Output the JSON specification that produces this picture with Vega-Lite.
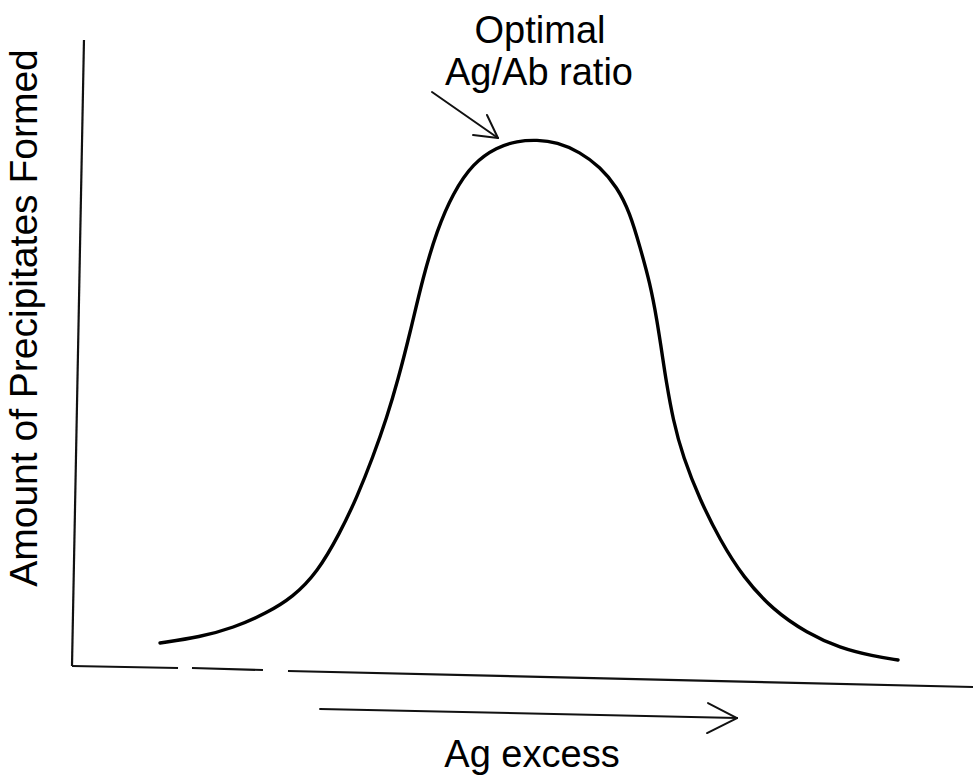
{
  "$schema": "https://vega.github.io/schema/vega-lite/v6.json",
  "width": 973,
  "height": 776,
  "autosize": {"type": "none"},
  "padding": 0,
  "background": "white",
  "config": {"view": {"stroke": null}},
  "datasets": {
    "curve": [
      {"ag": 9.78, "amount": 3.83},
      {"ag": 14.22, "amount": 4.83},
      {"ag": 17.89, "amount": 6.33},
      {"ag": 21.67, "amount": 8.83},
      {"ag": 24.56, "amount": 11.5},
      {"ag": 27.22, "amount": 15.5},
      {"ag": 29.78, "amount": 22.17},
      {"ag": 31.67, "amount": 28.17},
      {"ag": 33.44, "amount": 34.83},
      {"ag": 35.0, "amount": 41.5},
      {"ag": 36.22, "amount": 47.67},
      {"ag": 37.56, "amount": 55.5},
      {"ag": 39.0, "amount": 64.83},
      {"ag": 40.56, "amount": 72.67},
      {"ag": 42.33, "amount": 78.83},
      {"ag": 44.56, "amount": 83.83},
      {"ag": 47.22, "amount": 86.5},
      {"ag": 49.44, "amount": 87.5},
      {"ag": 51.67, "amount": 87.7},
      {"ag": 53.89, "amount": 87.3},
      {"ag": 56.44, "amount": 85.67},
      {"ag": 58.67, "amount": 83.17},
      {"ag": 60.56, "amount": 79.83},
      {"ag": 62.0, "amount": 75.5},
      {"ag": 63.11, "amount": 69.83},
      {"ag": 64.22, "amount": 63.83},
      {"ag": 65.0, "amount": 57.67},
      {"ag": 65.67, "amount": 51.0},
      {"ag": 66.0, "amount": 47.67},
      {"ag": 66.78, "amount": 41.0},
      {"ag": 67.89, "amount": 34.83},
      {"ag": 69.78, "amount": 27.67},
      {"ag": 72.0, "amount": 21.0},
      {"ag": 74.56, "amount": 14.83},
      {"ag": 77.89, "amount": 9.33},
      {"ag": 81.67, "amount": 5.5},
      {"ag": 85.33, "amount": 3.0},
      {"ag": 89.0, "amount": 1.67},
      {"ag": 91.78, "amount": 1.0}
    ],
    "axes": [
      {"part": "y axis", "x": 0, "y": 0, "x2": 1.33, "y2": 104.33},
      {"part": "x axis a", "x": 0, "y": 0, "x2": 11.78, "y2": -0.33},
      {"part": "x axis b", "x": 13.33, "y": -0.33, "x2": 21.22, "y2": -0.67},
      {"part": "x axis c", "x": 24.0, "y": -0.83, "x2": 100.11, "y2": -3.5}
    ],
    "arrows": [
      {"part": "excess shaft", "x": 27.56, "y": -7.17, "x2": 73.89, "y2": -8.67},
      {"part": "excess barb 1", "x": 70.67, "y": -6.17, "x2": 73.89, "y2": -8.67},
      {"part": "excess barb 2", "x": 70.56, "y": -11.17, "x2": 73.89, "y2": -8.67},
      {"part": "optimal shaft", "x": 40.0, "y": 95.67, "x2": 47.33, "y2": 88.0},
      {"part": "optimal barb 1", "x": 46.11, "y": 91.83, "x2": 47.33, "y2": 88.0},
      {"part": "optimal barb 2", "x": 44.56, "y": 88.5, "x2": 47.33, "y2": 88.0}
    ],
    "labels": [
      {"text": "Optimal", "x": 52.0, "y": 103.83},
      {"text": "Ag/Ab ratio", "x": 51.89, "y": 96.83},
      {"text": "Ag excess", "x": 51.11, "y": -16.83}
    ],
    "ylabel": [
      {"text": "Amount of Precipitates Formed", "x": -3.89, "y": 58.0}
    ]
  },
  "layer": [
    {
      "data": {"name": "axes"},
      "mark": {"type": "rule", "color": "#111111", "strokeWidth": 2.2},
      "encoding": {
        "x": {"field": "x", "type": "quantitative", "scale": {"domain": [-8, 100.111], "nice": false, "zero": false}, "axis": null},
        "y": {"field": "y", "type": "quantitative", "scale": {"domain": [-18.333, 111], "nice": false, "zero": false}, "axis": null},
        "x2": {"field": "x2"},
        "y2": {"field": "y2"}
      }
    },
    {
      "data": {"name": "arrows"},
      "mark": {"type": "rule", "color": "#111111", "strokeWidth": 2, "strokeCap": "round"},
      "encoding": {
        "x": {"field": "x", "type": "quantitative", "axis": null},
        "y": {"field": "y", "type": "quantitative", "axis": null},
        "x2": {"field": "x2"},
        "y2": {"field": "y2"}
      }
    },
    {
      "data": {"name": "curve"},
      "mark": {"type": "line", "color": "#000000", "strokeWidth": 3.4, "interpolate": "basis", "strokeCap": "round"},
      "encoding": {
        "x": {"field": "ag", "type": "quantitative", "axis": null},
        "y": {"field": "amount", "type": "quantitative", "axis": null}
      }
    },
    {
      "data": {"name": "labels"},
      "mark": {"type": "text", "font": "Liberation Sans", "fontSize": 38, "align": "center", "baseline": "alphabetic", "color": "#000000"},
      "encoding": {
        "x": {"field": "x", "type": "quantitative", "axis": null},
        "y": {"field": "y", "type": "quantitative", "axis": null},
        "text": {"field": "text"}
      }
    },
    {
      "data": {"name": "ylabel"},
      "mark": {"type": "text", "font": "Liberation Sans", "fontSize": 39, "align": "center", "baseline": "alphabetic", "angle": 270, "color": "#000000"},
      "encoding": {
        "x": {"field": "x", "type": "quantitative", "axis": null},
        "y": {"field": "y", "type": "quantitative", "axis": null},
        "text": {"field": "text"}
      }
    }
  ]
}
